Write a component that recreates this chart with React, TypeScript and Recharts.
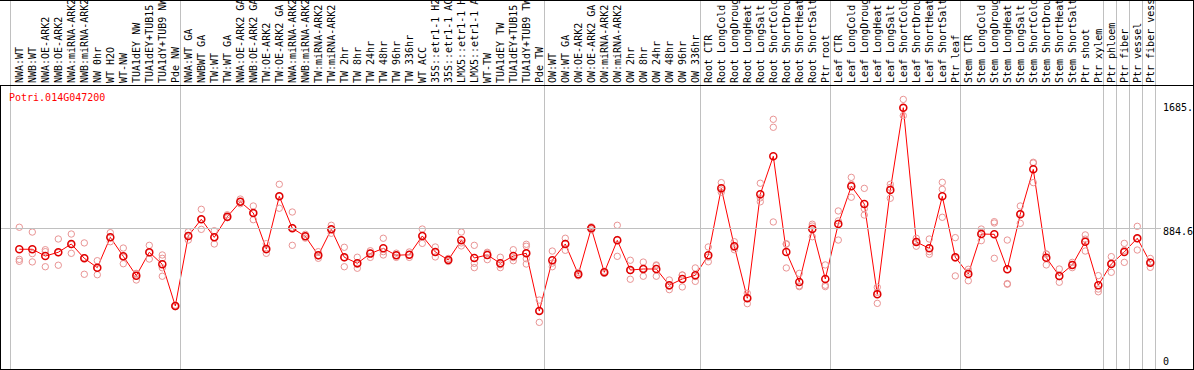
import { ComposedChart, Line, Scatter, XAxis, YAxis } from "recharts";

const GENE = "Potri.014G047200";

const CATEGORIES = [
  "NWA:WT", "NWB:WT", "NWA:OE-ARK2", "NWB:OE-ARK2", "NWA:miRNA-ARK2", "NWB:miRNA-ARK2",
  "NW 0hr", "WT H2O", "WT-NW", "TUA1dEY NW", "TUA1dEY+TUB15", "TUA1dY+TUB9 NW", "Pde NW",
  "NWA:WT GA", "NWBWT GA", "TW:WT", "TW:WT GA", "NWA:OE-ARK2 GA", "NWB:OE-ARK2 GA",
  "TW:OE-ARK2", "TW:OE-ARK2 GA", "NWA:miRNA-ARK2", "NWB:miRNA-ARK2", "TW:miRNA-ARK2",
  "TW:miRNA-ARK2", "TW 2hr", "TW 8hr", "TW 24hr", "TW 48hr", "TW 96hr", "TW 336hr",
  "WT ACC", "35S::etr1-1 H2", "35S::etr1-1 AC", "LMX5::etr1-1 H", "LMX5::etr1-1 A",
  "WT-TW", "TUA1dEY TW", "TUA1dEY+TUB15", "TUA1dY+TUB9 TW", "Pde TW",
  "OW:WT", "OW:WT GA", "OW:OE-ARK2", "OW:OE-ARK2 GA", "OW:miRNA-ARK2", "OW:miRNA-ARK2",
  "OW 2hr", "OW 8hr", "OW 24hr", "OW 48hr", "OW 96hr", "OW 336hr",
  "Root CTR", "Root LongCold", "Root LongDroug", "Root LongHeat", "Root LongSalt",
  "Root ShortCold", "Root ShortDrou", "Root ShortHeat", "Root ShortSalt", "Ptr root",
  "Leaf CTR", "Leaf LongCold", "Leaf LongDroug", "Leaf LongHeat", "Leaf LongSalt",
  "Leaf ShortCold", "Leaf ShortDrou", "Leaf ShortHeat", "Leaf ShortSalt", "Ptr leaf",
  "Stem CTR", "Stem LongCold", "Stem LongDroug", "Stem LongHeat", "Stem LongSalt",
  "Stem ShortCold", "Stem ShortDrou", "Stem ShortHeat", "Stem ShortSalt", "Ptr shoot",
  "Ptr xylem", "Ptr phloem", "Ptr fiber", "Ptr vessel", "Ptr fiber vess",
];

const MEAN = [
  746, 746, 701, 726, 781, 686, 624, 825, 699, 571, 726, 646, 370,
  834, 945, 825, 962, 1061, 987, 748, 1097, 885, 832, 706, 878, 693, 653, 717, 752,
  706, 710, 834, 728, 675, 805, 688, 708, 653, 701, 719, 336,
  673, 781, 580, 885, 593, 805, 608, 615, 615, 507, 549, 573,
  706, 1150, 766, 421, 1111, 1363, 728, 529, 880, 549,
  914, 1164, 1046, 447, 1139, 1685, 794, 752, 1097, 693,
  582, 847, 845, 613, 978, 1276, 690, 569, 642, 796,
  507, 648, 728, 819, 657,
];

const REPLICATES = [
  [892, 679, 666], [860, 717, 662], [743, 730, 630], [814, 723, 640], [847, 777, 719],
  [788, 690, 580], [670, 620, 577], [856, 824, 796], [754, 693, 650], [586, 583, 542],
  [772, 724, 681], [708, 686, 623, 567], [375, 369, 365],
  [862, 833, 807], [1011, 945, 878], [869, 825, 781], [975, 956, 955], [1079, 1061, 1048],
  [1033, 985, 942], [783, 741, 719], [1177, 1097, 1018], [993, 890, 772], [845, 832, 820],
  [730, 702, 686], [905, 878, 852], [759, 689, 630], [693, 647, 620], [736, 721, 692],
  [819, 730, 708], [720, 706, 692], [728, 710, 692], [880, 837, 785], [761, 728, 695],
  [685, 674, 665], [860, 788, 768], [772, 653, 624], [726, 720, 677], [693, 643, 624],
  [743, 690, 670], [779, 766, 719, 683, 648], [409, 338, 261],
  [734, 654, 630], [819, 785, 739], [592, 578, 570], [895, 885, 875], [600, 593, 586],
  [905, 811, 699], [673, 605, 547], [661, 618, 567], [642, 637, 567], [542, 500, 478],
  [575, 575, 496], [622, 565, 533],
  [761, 694, 663], [1188, 1139, 1124], [796, 758, 743], [454, 423, 385], [1184, 1087, 1061],
  [1608, 1555, 927], [783, 779, 622], [586, 503, 498], [912, 900, 829], [642, 507, 498],
  [1000, 934, 807], [1223, 1177, 1091], [1150, 1015, 973], [494, 460, 387], [1177, 1156, 1084],
  [1740, 1683, 1632], [819, 798, 766], [814, 730, 713], [1190, 1144, 958], [823, 687, 569],
  [613, 595, 537], [880, 858, 803], [929, 920, 686], [807, 518, 514], [1033, 983, 918],
  [1323, 1318, 1188], [715, 713, 642], [615, 564, 527], [659, 641, 624], [841, 813, 734],
  [571, 482, 464], [697, 655, 593], [785, 739, 659], [898, 817, 741], [685, 660, 626],
];

// separators are drawn right after these categories
const GROUP_ENDS = [12, 40, 52, 62, 72, 83, 84, 85, 86, 87];

const Y_TICKS = [0, 884.6, 1685];
const Y_TICK_LABELS = ["0", "884.6", "1685."];

const X_DOMAIN = [-1.408, 90.285];
const Y_DOMAIN = [-48.4, 1835.6];

const meanData = MEAN.map((y, x) => ({ x, y }));
const repData = REPLICATES.flatMap((vals, x) => vals.map((y) => ({ x, y })));
const ticks = CATEGORIES.map((_, i) => i);

const FONT = "'DejaVu Sans Mono', monospace";
const GRID = "#c0c0c0";
const RED = "#ff0000";
const PALE = "#e99494";

function CategoryTick({ x, payload }: any) {
  const i = payload.value;
  const sep = Math.floor(x + 5) + 0.5;
  const first = Math.floor(x - 9) + 0.5;
  return (
    <g>
      {i === 0 && <line x1={first} x2={first} y1={0} y2={369} stroke={GRID} />}
      {GROUP_ENDS.includes(i) && <line x1={sep} x2={sep} y1={0} y2={369} stroke={GRID} />}
      <text
        transform={`translate(${x},83) rotate(-90)`}
        fontSize={10}
        fontFamily={FONT}
        fill="#000"
        textAnchor="start"
        dominantBaseline="central"
      >
        {CATEGORIES[i]}
      </text>
    </g>
  );
}

function ValueTick({ y, payload }: any) {
  const idx = Y_TICKS.indexOf(payload.value);
  const mid = idx === 1;
  const gy = Math.floor(y) + 0.5;
  return (
    <g>
      {mid && <line x1={1} x2={1161} y1={gy} y2={gy} stroke={GRID} />}
      <text
        x={1163}
        y={y + (mid ? 3.4 : 0)}
        fontSize={10}
        fontFamily={FONT}
        fill="#000"
        textAnchor="start"
        dominantBaseline="central"
      >
        {Y_TICK_LABELS[idx]}
      </text>
    </g>
  );
}

const line = (style: React.CSSProperties) => (
  <div style={{ position: "absolute", background: "#000", pointerEvents: "none", ...style }} />
);

export default function App() {
  return (
    <div style={{ position: "absolute", left: 0, top: 0, width: 1194, height: 370, background: "#fff" }}>
      <ComposedChart
        width={1194}
        height={370}
        data={meanData}
        margin={{ top: 0, right: 1, bottom: 1, left: 1 }}
      >
        <XAxis
          dataKey="x"
          type="number"
          orientation="top"
          height={85}
          domain={X_DOMAIN}
          ticks={ticks}
          interval={0}
          axisLine={false}
          tickLine={false}
          tick={<CategoryTick />}
        />
        <YAxis
          type="number"
          orientation="right"
          mirror
          domain={Y_DOMAIN}
          ticks={Y_TICKS}
          interval={0}
          axisLine={false}
          tickLine={false}
          tick={<ValueTick />}
        />
        <Scatter
          data={repData}
          dataKey="y"
          isAnimationActive={false}
          shape={(p: any) => (
            <circle cx={p.cx} cy={p.cy} r={3.2} fill="none" stroke={PALE} strokeWidth={1} />
          )}
        />
        <Line
          dataKey="y"
          type="linear"
          stroke={RED}
          strokeWidth={1}
          dot={{ r: 3.5, fill: "none", stroke: "#e00000", strokeWidth: 1.5 }}
          activeDot={false}
          isAnimationActive={false}
        />
      </ComposedChart>
      {line({ left: 0, top: 0, width: 1194, height: 1 })}
      {line({ left: 1193, top: 0, width: 1, height: 370 })}
      <div
        style={{
          position: "absolute",
          left: 0,
          top: 85,
          width: 1194,
          height: 285,
          border: "1px solid #000",
          boxSizing: "border-box",
          pointerEvents: "none",
        }}
      />
      <div
        style={{
          position: "absolute",
          left: 9,
          top: 93,
          fontFamily: FONT,
          fontSize: 10,
          lineHeight: "10px",
          color: RED,
          whiteSpace: "nowrap",
        }}
      >
        {GENE}
      </div>
    </div>
  );
}
